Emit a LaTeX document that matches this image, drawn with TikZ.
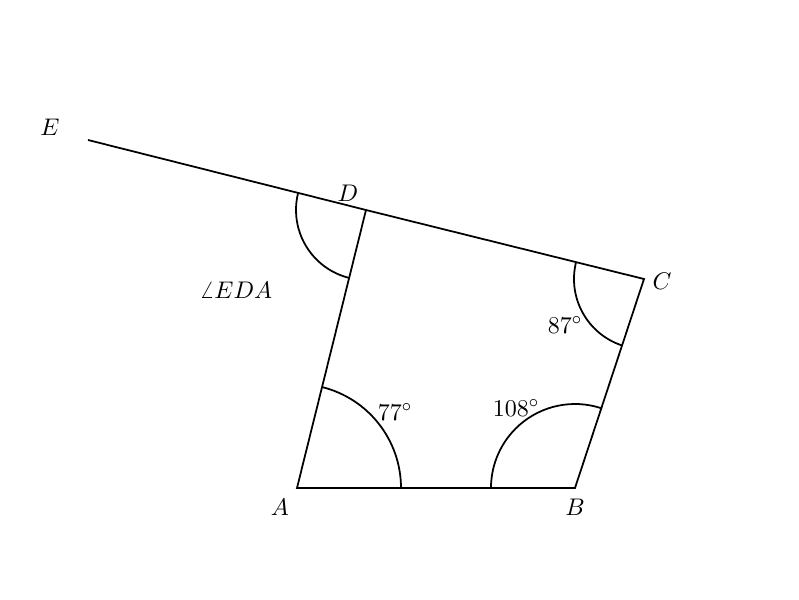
\documentclass[tikz,border=0pt]{standalone}
\usetikzlibrary{angles}
\begin{document}
\begin{tikzpicture}[x=0.016cm,y=0.016cm,
  seg/.style={line width=0.8pt},
  ang/.style={draw,line width=0.8pt},
  lbl/.style={inner sep=0pt,font=\fontsize{11pt}{13pt}\selectfont}]
\useasboundingbox (0,0) rectangle (799,600);
\coordinate (A) at (297,112);
\coordinate (B) at (575,112);
\coordinate (C) at (644,321);
\coordinate (D) at (366,390);
\coordinate (E) at (88,460);
\draw[seg] (E) -- (D) -- (C) -- (B) -- (A) -- (D);
\pic[ang, angle radius=104*0.016cm] {angle=B--A--D};
\pic[ang, angle radius=84*0.016cm] {angle=C--B--A};
\pic[ang, angle radius=70*0.016cm] {angle=D--C--B};
\pic[ang, angle radius=70*0.016cm] {angle=E--D--A};
\node[lbl] (lE) at (50,473) {$E$};
\node[lbl] (lD) at (348,407) {$D$};
\node[lbl] (lC) at (662,319) {$C$};
\node[lbl] (lA) at (280,93) {$A$};
\node[lbl] (lB) at (575,93) {$B$};
\node[lbl] (lEDA) at (236,310) {$\angle EDA$};
\node[lbl] (l77) at (395,188) {$77^\circ$};
\node[lbl] (l108) at (516,192) {$108^\circ$};
\node[lbl] (l87) at (565,275) {$87^\circ$};
\end{tikzpicture}
\end{document}
